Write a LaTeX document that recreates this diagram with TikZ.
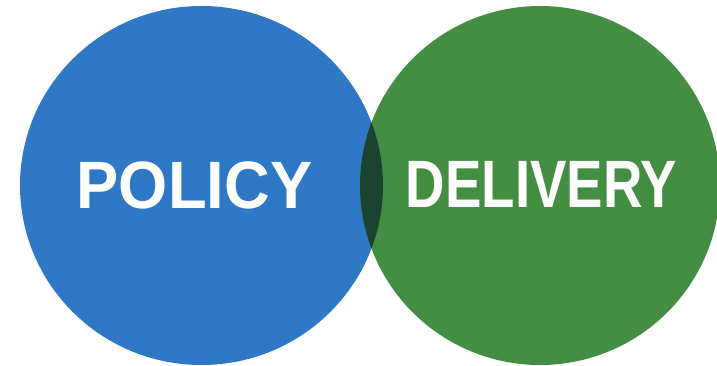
\documentclass[tikz,border=0pt]{standalone}
\usepackage{fontspec}
\setmainfont{Liberation Sans}
\definecolor{polblue}{RGB}{46,120,198}
\definecolor{delgreen}{RGB}{67,142,67}
\definecolor{overlapc}{RGB}{27,67,50}
\begin{document}
\begin{tikzpicture}[x=1pt,y=1pt,
  label/.style={inner sep=0pt, text=white, font=\fontsize{67}{67}\selectfont\bfseries, anchor=center}]
\useasboundingbox (0,0) rectangle (717,366);
\fill[white] (0,0) rectangle (717,366);
\fill[polblue] (201.5,180.5) ellipse [x radius=181.5, y radius=179.5];
\fill[delgreen] (540,180.5) ellipse [x radius=180, y radius=179.5];
\begin{scope}
  \clip (201.5,180.5) ellipse [x radius=181.5, y radius=179.5];
  \fill[overlapc] (540,180.5) ellipse [x radius=180, y radius=179.5];
\end{scope}
\node[label] (policy) at (194.5,181) {\scalebox{0.944}[1]{POLICY}};
\node[label] (delivery) at (541.5,181.5) {\scalebox{0.815}[1]{DELIVERY}};
\end{tikzpicture}
\end{document}
